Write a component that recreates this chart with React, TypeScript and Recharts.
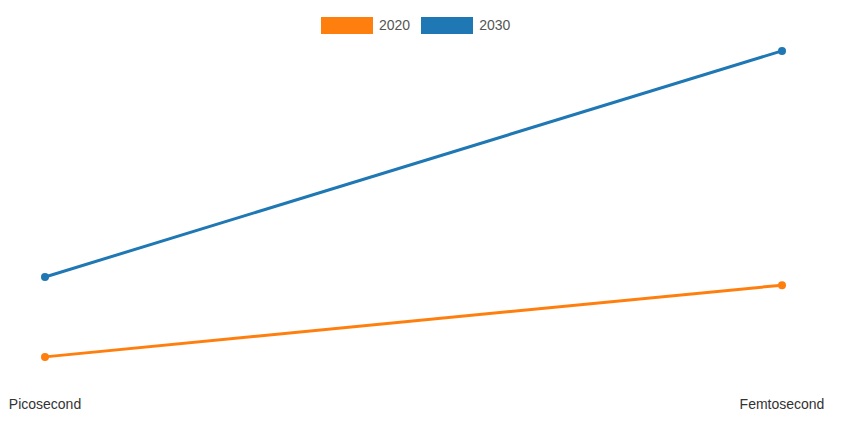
import React from 'react';
import { LineChart, Line, XAxis, YAxis } from 'recharts';

// Categories and series values
const categories = ['Picosecond', 'Femtosecond'];
const values2020 = [0.68, 2.79];
const values2030 = [3.03, 9.68];

const series = [
  { key: 'y2020', label: '2020', color: '#ff7f0e', values: values2020 },
  { key: 'y2030', label: '2030', color: '#1f77b4', values: values2030 },
];

const data = categories.map((name, i) => ({
  name,
  y2020: values2020[i],
  y2030: values2030[i],
}));

const FONT = '"Liberation Sans", Arial, Helvetica, sans-serif';

export default function App() {
  return (
    <div style={{ position: 'relative', width: 841, height: 429, margin: '-8px 0 0 -8px', fontFamily: FONT }}>
      {/* legend */}
      <div
        style={{
          position: 'absolute',
          top: 17,
          left: 321,
          display: 'flex',
          alignItems: 'center',
          fontSize: 14,
          color: '#555',
        }}
      >
        {series.map((s) => (
          <div key={s.key} style={{ display: 'flex', alignItems: 'center', marginRight: 11 }}>
            <span style={{ display: 'inline-block', width: 52, height: 17, background: s.color, marginRight: 6 }} />
            <span style={{ lineHeight: '17px' }}>{s.label}</span>
          </div>
        ))}
      </div>
      <LineChart width={841} height={429} data={data} margin={{ top: 40, right: 59, bottom: 9, left: 45 }}>
        <XAxis
          dataKey="name"
          axisLine={false}
          tickLine={false}
          height={40}
          tickMargin={13}
          interval={0}
          tick={{ fill: '#333', fontSize: 14, fontFamily: FONT }}
        />
        <YAxis hide domain={[0, 10]} />
        {series.map((s) => (
          <Line
            key={s.key}
            dataKey={s.key}
            stroke={s.color}
            strokeWidth={3}
            dot={{ r: 4, fill: s.color, stroke: s.color, strokeWidth: 0 }}
            activeDot={false}
            isAnimationActive={false}
          />
        ))}
      </LineChart>
    </div>
  );
}
